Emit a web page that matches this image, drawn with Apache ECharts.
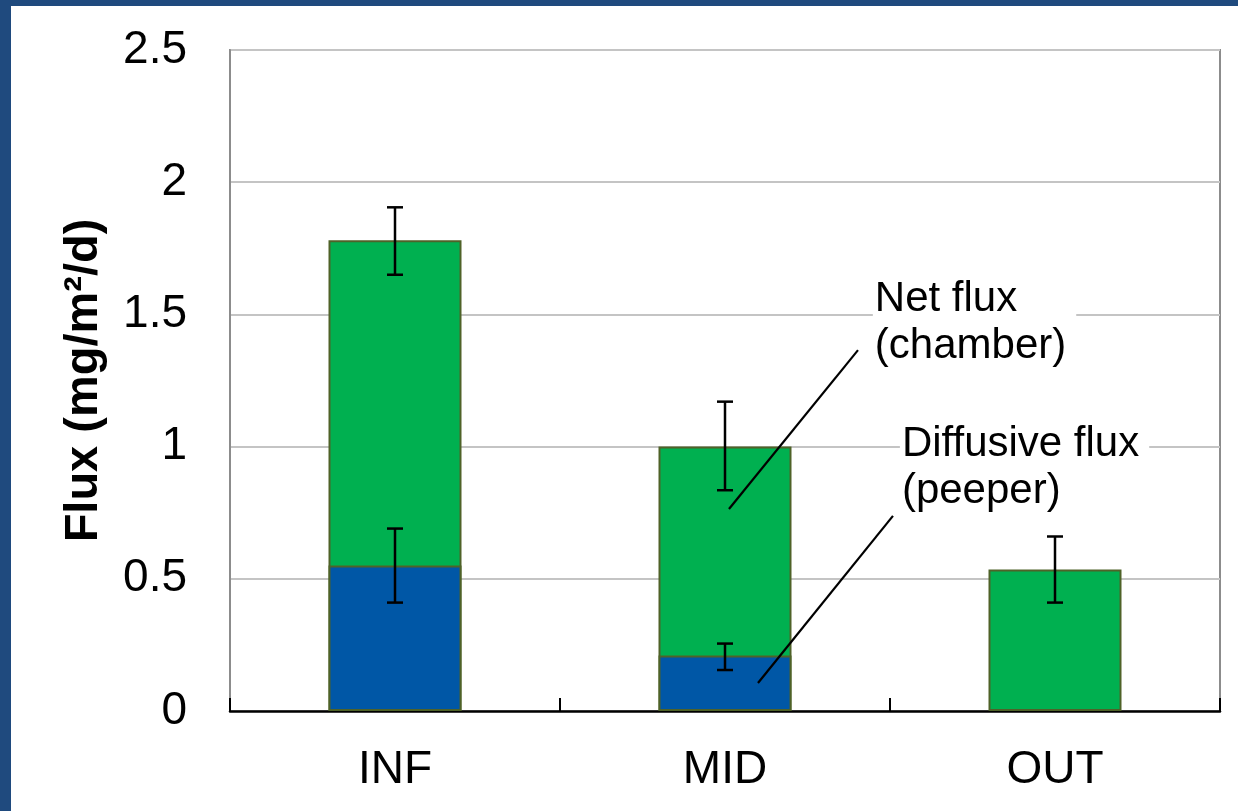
<!DOCTYPE html>
<html>
<head>
<meta charset="utf-8">
<script src="https://cdn.jsdelivr.net/npm/echarts@6/dist/echarts.min.js"></script>
<style>
html,body{margin:0;padding:0;background:#fff;}
#chart{width:1238px;height:811px;}
</style>
</head>
<body>
<div id="chart"></div>
<script>
// ---- data ----
const categories = ['INF', 'MID', 'OUT'];
const netFlux = [1.78, 1.00, 0.535];          // chamber (green)
const diffusiveFlux = [0.55, 0.21, null];     // peeper (blue)
const netErrLow = [1.65, 0.835, 0.41];
const netErrHigh = [1.905, 1.17, 0.66];
const diffErrLow = [0.41, 0.155, null];
const diffErrHigh = [0.69, 0.255, null];
const yTicks = { min: 0, max: 2.5, interval: 0.5 };

// annotation leader lines (data space: x = category position, y = flux)
const netLeader = [[1.012, 0.764], [1.403, 1.365]];
const diffLeader = [[1.100, 0.106], [1.509, 0.738]];
const netLabelAt = [1.448, 1.645];
const diffLabelAt = [1.530, 1.098];
const netLabelText = 'Net flux\n(chamber)';
const diffLabelText = 'Diffusive flux\n(peeper)';

const FONT = '"Liberation Sans", Arial, sans-serif';

const errData = [];
categories.forEach((c, i) => {
  if (netErrLow[i] != null) errData.push([i, netErrLow[i], netErrHigh[i]]);
  if (diffErrLow[i] != null) errData.push([i, diffErrLow[i], diffErrHigh[i]]);
});

function errRender(params, api) {
  const x = api.value(0);
  const lo = api.coord([x, api.value(1)]);
  const hi = api.coord([x, api.value(2)]);
  const hw = 8;
  const st = { stroke: '#000', lineWidth: 2.5 };
  return {
    type: 'group',
    children: [
      { type: 'line', shape: { x1: lo[0], y1: lo[1], x2: hi[0], y2: hi[1] }, style: st },
      { type: 'line', shape: { x1: lo[0] - hw, y1: lo[1], x2: lo[0] + hw, y2: lo[1] }, style: st },
      { type: 'line', shape: { x1: hi[0] - hw, y1: hi[1], x2: hi[0] + hw, y2: hi[1] }, style: st }
    ]
  };
}

const annotData = [
  [netLeader[0][0], netLeader[0][1], netLeader[1][0], netLeader[1][1], netLabelAt[0], netLabelAt[1], 0],
  [diffLeader[0][0], diffLeader[0][1], diffLeader[1][0], diffLeader[1][1], diffLabelAt[0], diffLabelAt[1], 1]
];
const annotTexts = [netLabelText, diffLabelText];

function annotRender(params, api) {
  const p1 = api.coord([api.value(0), api.value(1)]);
  const p2 = api.coord([api.value(2), api.value(3)]);
  const t = api.coord([api.value(4), api.value(5)]);
  const idx = api.value(6);
  return {
    type: 'group',
    children: [
      { type: 'line', shape: { x1: p1[0], y1: p1[1], x2: p2[0], y2: p2[1] },
        style: { stroke: '#000', lineWidth: 2.2 } },
      { type: 'text', x: t[0], y: t[1],
        style: { text: annotTexts[idx], fill: '#000', font: '42px ' + FONT,
                 lineHeight: 47, backgroundColor: '#fff',
                 padding: [0, 10, 0, 2], verticalAlign: 'top', align: 'left' } }
    ]
  };
}

const chart = echarts.init(document.getElementById('chart'), null, { renderer: 'canvas' });
chart.setOption({
  animation: false,
  backgroundColor: '#fff',
  textStyle: { fontFamily: FONT },
  graphic: [
    { type: 'rect', shape: { x: 0, y: 0, width: 11, height: 811 }, style: { fill: '#1F4A7E' }, z: 100 },
    { type: 'rect', shape: { x: 0, y: 0, width: 1238, height: 6 }, style: { fill: '#1F4A7E' }, z: 100 }
  ],
  grid: { left: 230, right: 18, top: 50, bottom: 100, show: true,
          borderColor: '#8c8c8c', borderWidth: 2, backgroundColor: 'transparent' },
  xAxis: [{
    type: 'category', data: categories,
    axisLine: { show: true, lineStyle: { color: '#000', width: 2.5 } },
    axisTick: { show: true, inside: true, length: 13, lineStyle: { color: '#000', width: 2 } },
    axisLabel: { color: '#000', fontSize: 46, margin: 36, fontFamily: FONT },
    splitLine: { show: false }
  }, {
    type: 'value', min: -0.5, max: 2.5, show: false
  }],
  yAxis: {
    type: 'value', min: yTicks.min, max: yTicks.max, interval: yTicks.interval,
    name: 'Flux (mg/m²/d)', nameLocation: 'middle', nameRotate: 90, nameGap: 122,
    nameTextStyle: { color: '#000', fontSize: 47, fontWeight: 'bold', fontFamily: FONT },
    axisLine: { show: true, onZero: false, lineStyle: { color: '#8c8c8c', width: 2 } },
    axisTick: { show: false },
    axisLabel: { color: '#000', fontSize: 46, margin: 43, fontFamily: FONT },
    splitLine: { show: true, lineStyle: { color: '#c4c4c4', width: 2 } }
  },
  series: [
    { name: 'Net flux (chamber)', type: 'bar', data: netFlux, barWidth: 133, barGap: '-100%',
      itemStyle: { color: '#00B050', borderColor: '#4F6228', borderWidth: 2 }, z: 2 },
    { name: 'Diffusive flux (peeper)', type: 'bar', data: diffusiveFlux, barWidth: 133, barGap: '-100%',
      itemStyle: { color: '#0057A6', borderColor: '#4F6228', borderWidth: 2 }, z: 3 },
    { type: 'custom', data: errData, renderItem: errRender, z: 10, silent: true },
    { type: 'custom', xAxisIndex: 1, data: annotData, renderItem: annotRender, z: 11, silent: true }
  ]
});
</script>
</body>
</html>
